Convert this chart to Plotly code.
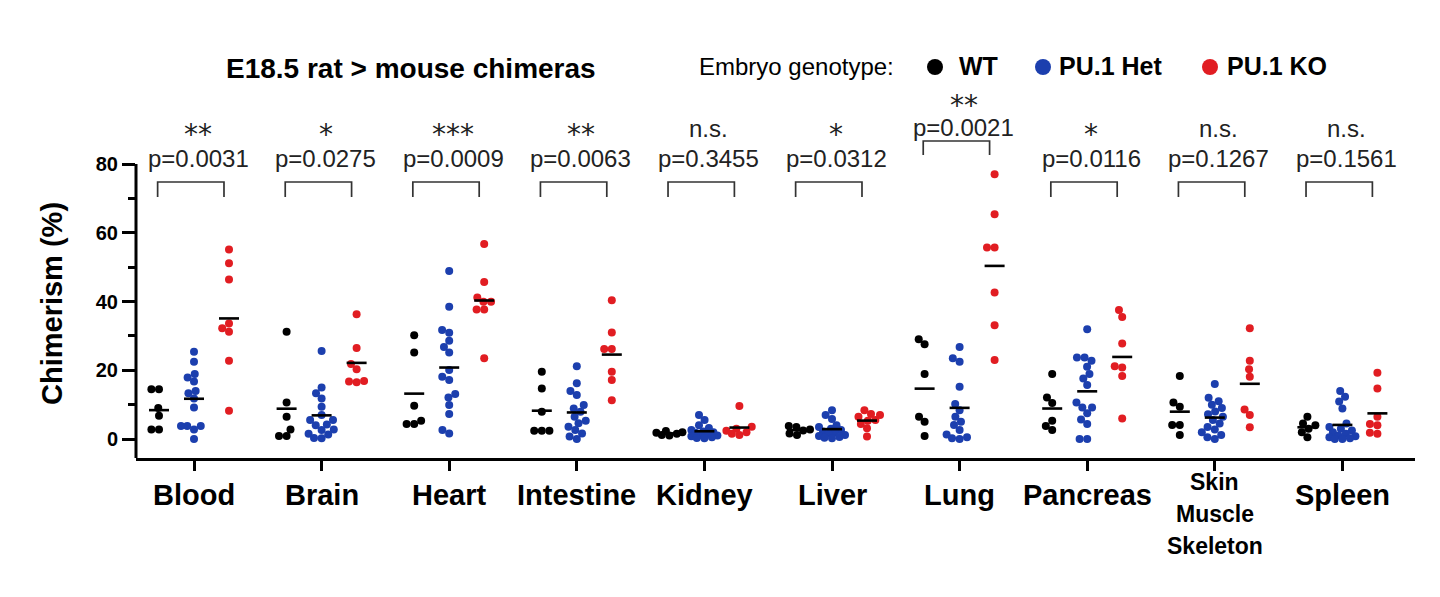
import numpy as np
import plotly.graph_objects as go

# ---------------- data ----------------
categories = ["Blood", "Brain", "Heart", "Intestine", "Kidney", "Liver",
              "Lung", "Pancreas", "Skin\nMuscle\nSkeleton", "Spleen"]

wt = [
    [14.5, 14.5, 9.0, 6.8, 2.8, 2.8],
    [31.2, 10.6, 6.5, 2.8, 0.9, 0.9],
    [30.2, 25.2, 9.7, 5.3, 4.4, 4.4],
    [19.6, 14.7, 7.9, 2.4, 2.4, 2.4],
    [2.3, 2.0, 1.8, 1.5, 1.2, 1.0],
    [3.8, 3.5, 2.8, 2.5, 1.6, 1.2],
    [29.0, 27.6, 18.9, 6.5, 5.0, 0.9],
    [18.9, 12.1, 10.5, 5.3, 3.8, 2.6],
    [18.3, 10.6, 9.4, 4.1, 4.1, 1.2],
    [6.5, 4.5, 4.0, 3.0, 2.0, 0.5],
]

het = [
    [25.4, 22.5, 18.9, 17.9, 16.7, 14.0, 13.3, 11.8, 9.2, 3.8, 3.8, 3.8, 2.8, 0.0],
    [25.6, 15.0, 13.3, 11.8, 9.4, 7.0, 5.5, 5.5, 4.2, 4.0, 2.8, 2.6, 1.5, 1.3, 0.3, 0.2],
    [48.9, 38.5, 31.7, 30.9, 28.6, 26.8, 25.2, 20.1, 18.1, 17.2, 13.1, 12.1, 9.9, 7.3, 2.6, 1.6],
    [21.2, 16.2, 14.0, 12.8, 9.9, 8.9, 7.9, 6.5, 5.3, 4.6, 3.6, 2.6, 1.6, 0.7, 0.0],
    [7.0, 5.5, 4.0, 3.2, 2.6, 2.2, 2.0, 1.8, 1.5, 1.2, 1.0, 0.8, 0.5, 0.3, 0.2],
    [8.4, 7.0, 5.8, 4.0, 3.5, 3.0, 2.6, 2.2, 1.8, 1.5, 1.2, 0.9, 0.6, 0.4, 0.2],
    [26.8, 23.5, 22.5, 15.2, 10.2, 8.4, 6.5, 5.0, 4.1, 2.6, 1.3, 0.5, 0.2, 0.0],
    [31.9, 23.7, 23.7, 22.8, 21.0, 18.9, 17.6, 15.7, 10.6, 9.2, 9.2, 7.5, 5.7, 4.4, 0.0, 0.0],
    [16.0, 12.0, 11.0, 10.0, 9.0, 8.0, 7.2, 6.5, 5.5, 4.5, 3.5, 2.8, 2.0, 1.2, 0.5, 0.0],
    [14.0, 12.3, 10.9, 8.9, 4.5, 3.5, 3.0, 2.5, 2.0, 1.5, 1.0, 0.8, 0.5, 0.2, 0.0, 0.0],
]

ko = [
    [55.1, 51.1, 46.4, 33.6, 32.2, 31.2, 22.8, 8.2],
    [36.3, 26.5, 21.8, 20.3, 16.7, 16.5, 16.9],
    [56.7, 45.7, 41.2, 39.9, 39.9, 37.7, 37.7, 23.5],
    [40.4, 31.0, 26.2, 26.2, 19.6, 17.2, 11.3],
    [9.6, 3.6, 3.0, 2.4, 2.0, 1.5, 1.2],
    [8.4, 7.3, 7.0, 6.5, 5.5, 5.3, 4.4, 3.1, 0.7],
    [77.0, 65.4, 55.7, 55.7, 42.6, 33.1, 23.0],
    [37.5, 35.5, 27.8, 21.2, 20.8, 18.3, 6.0],
    [32.2, 22.8, 20.3, 18.1, 8.6, 7.0, 3.4],
    [19.3, 14.7, 6.5, 4.4, 4.0, 1.8, 1.5],
]

p_labels = ["p=0.0031", "p=0.0275", "p=0.0009", "p=0.0063", "p=0.3455",
            "p=0.0312", "p=0.0021", "p=0.0116", "p=0.1267", "p=0.1561"]
sig_labels = ["**", "*", "***", "**", "n.s.", "*", "**", "*", "n.s.", "n.s."]

y_ticks = [0, 20, 40, 60, 80]
y_minor_ticks = [10, 30, 50, 70]

genotypes = ["WT", "PU.1 Het", "PU.1 KO"]
colors = ["#000000", "#1c3fae", "#e11d22"]

# ---------------- geometry helpers (reference pixel coordinates) ----------------
PAGE_MARGIN = 8                 # default body margin of the html page
W, H = 1440 - 2 * PAGE_MARGIN, 597 - 2 * PAGE_MARGIN
AX_L, AX_R = 136, 1415          # axis left / right pixel (page coords)
AX_B, PLOT_T = 458, 20          # axis bottom / plot top pixel (page coords)
Y0_PX, Y80_PX = 439, 164        # pixel rows of 0 and 80
PPU = (Y0_PX - Y80_PX) / 80.0   # pixels per unit
CAT0_PX, CAT_STEP = 194, 127.6  # first category center px, spacing
YMIN = -(AX_B - Y0_PX) / PPU
YMAX = (Y0_PX - PLOT_T) / PPU
XMIN = (AX_L - CAT0_PX) / CAT_STEP
XMAX = (AX_R - CAT0_PX) / CAT_STEP


def yv(py):
    return (Y0_PX - py) / PPU


def xv(px):
    return (px - CAT0_PX) / CAT_STEP


def xp(px):
    return (px - AX_L) / (AX_R - AX_L)


def yp(py):
    return (AX_B - py) / (AX_B - PLOT_T)


GROUP_OFF = 35 / CAT_STEP
offsets = [-GROUP_OFF, 0.0, GROUP_OFF]


def swarm(values, d_px=7.6, cap=13.0):
    """Beeswarm offsets (in category units) computed from the values."""
    ys = np.asarray(values, dtype=float) * PPU
    order = np.argsort(ys)
    xs = np.zeros(len(ys))
    placed = []
    grid = np.linspace(-cap, cap, 53)
    for i in order:
        y = ys[i]
        ivs = []
        for xj, yj in placed:
            dy = abs(y - yj)
            if dy < d_px:
                w = np.sqrt(d_px ** 2 - dy ** 2)
                ivs.append((xj - w, xj + w))
        cands = [0.0] + [a for a, b in ivs] + [b for a, b in ivs]
        cands = [c for c in cands if abs(c) <= cap + 1e-9]
        cands.sort(key=lambda c: (abs(c), c))
        chosen = None
        for c in cands:
            if all(not (a + 1e-6 < c < b - 1e-6) for a, b in ivs):
                chosen = c
                break
        if chosen is None:
            best, best_score = 0.0, -1.0
            for c in sorted(grid, key=abs):
                sc = min(np.hypot(c - xj, y - yj) for xj, yj in placed)
                if sc > best_score + 1e-6:
                    best, best_score = c, sc
            chosen = best
        xs[i] = chosen
        placed.append((chosen, y))
    return xs / CAT_STEP


fig = go.Figure()

# points
for g, data in enumerate([wt, het, ko]):
    xs, ys = [], []
    for i, vals in enumerate(data):
        sx = swarm(vals)
        xs += list(i + offsets[g] + sx)
        ys += list(vals)
    fig.add_trace(go.Scatter(x=xs, y=ys, mode="markers", name=genotypes[g],
                             marker=dict(size=8, color=colors[g], line=dict(width=0)),
                             showlegend=False, hoverinfo="skip"))

# mean lines
mx, my = [], []
half = 10 / CAT_STEP
for g, data in enumerate([wt, het, ko]):
    for i, vals in enumerate(data):
        m = float(np.mean(vals))
        c = i + offsets[g]
        mx += [c - half, c + half, None]
        my += [m, m, None]
fig.add_trace(go.Scatter(x=mx, y=my, mode="lines", line=dict(color="black", width=2.6),
                         showlegend=False, hoverinfo="skip"))

# brackets
bx, by = [], []
b_half = 0.26
b_shift = -0.025
for i in range(len(categories)):
    if categories[i] == "Lung":
        top, bot = yv(141), yv(155)
    else:
        top, bot = yv(182), yv(197)
    l, r = i + b_shift - b_half, i + b_shift + b_half
    bx += [l, l, r, r, None]
    by += [bot, top, top, bot, None]
fig.add_trace(go.Scatter(x=bx, y=by, mode="lines", line=dict(color="#333333", width=1.7),
                         showlegend=False, hoverinfo="skip"))

LEG_Y = 66
# legend dots
leg_px = [935, 1043, 1210]
fig.add_trace(go.Scatter(x=[xv(p) for p in leg_px], y=[yv(LEG_Y + 1)] * 3, mode="markers",
                         marker=dict(size=16, color=colors), showlegend=False,
                         hoverinfo="skip"))

FONT = "Liberation Sans, Arial, Helvetica, sans-serif"
STAR_FONT = "DejaVu Sans, sans-serif"
ann = []


def add_text(px, py, text, size, color="black", xanchor="center", angle=0, family=FONT):
    ann.append(dict(xref="paper", yref="paper", x=xp(px), y=yp(py), text=text,
                    showarrow=False, textangle=angle,
                    font=dict(family=family, size=size, color=color),
                    xanchor=xanchor, yanchor="middle"))


# p values and significance
STAR_SIZE, P_SIZE = 28, 24
for i in range(len(categories)):
    cx = CAT0_PX + CAT_STEP * i + 4
    if categories[i] == "Lung":
        star_base, p_c, ns_c = 106, 127, 99
    else:
        star_base, p_c, ns_c = 135.5, 158, 129
    add_text(cx, p_c, p_labels[i], P_SIZE, "#222222")
    if sig_labels[i] == "n.s.":
        add_text(cx, ns_c, sig_labels[i], P_SIZE, "#222222")
    else:
        stars = sig_labels[i].replace("*", "\u204e")
        add_text(cx, star_base - 0.346 * STAR_SIZE, stars, STAR_SIZE, "#222222",
                 family=STAR_FONT)

# category labels
for i, c in enumerate(categories):
    cx = CAT0_PX + CAT_STEP * i
    lines = c.split("\n")
    if len(lines) == 1:
        add_text(cx, 495, "<b>%s</b>" % c, 29)
    else:
        for k, t in enumerate(lines):
            add_text(cx, 482 + 32 * k, "<b>%s</b>" % t, 23)

# title and legend texts
add_text(224, 68, "<b>E18.5 rat > mouse chimeras</b>", 28, xanchor="left")
add_text(896, LEG_Y, "Embryo genotype:", 24, xanchor="right")
leg_text_px = [957, 1057, 1225]
for g in range(3):
    add_text(leg_text_px[g], LEG_Y, "<b>%s</b>" % genotypes[g], 25, xanchor="left")

# y axis title
add_text(52, 304, "<b>Chimerism (%)</b>", 29, angle=-90)

shapes = [dict(type="line", xref="paper", yref="y", x0=0, x1=0, y0=YMIN, y1=80,
               line=dict(color="black", width=3))]

fig.update_layout(
    width=W, height=H,
    margin=dict(l=AX_L - PAGE_MARGIN, r=(1440 - PAGE_MARGIN) - AX_R,
                t=PLOT_T - PAGE_MARGIN, b=(597 - PAGE_MARGIN) - AX_B),
    plot_bgcolor="white", paper_bgcolor="white",
    annotations=ann, shapes=shapes,
    xaxis=dict(range=[XMIN, XMAX], showgrid=False, zeroline=False,
               showline=True, linecolor="black", linewidth=3,
               tickmode="array", tickvals=list(range(len(categories))),
               ticks="outside", ticklen=10, tickwidth=2.5, tickcolor="black",
               showticklabels=False),
    yaxis=dict(range=[YMIN, YMAX], showgrid=False, zeroline=False, showline=False,
               tickmode="array", tickvals=y_ticks, ticktext=[str(v) for v in y_ticks],
               ticks="outside", ticklen=13, tickwidth=2.5, tickcolor="black",
               tickfont=dict(family=FONT, size=20, color="black", weight="bold"),
               minor=dict(tickmode="array", tickvals=y_minor_ticks, ticks="outside",
                          ticklen=7, tickwidth=2.5, tickcolor="black")),
    showlegend=False,
)

fig.write_html("out.html")
